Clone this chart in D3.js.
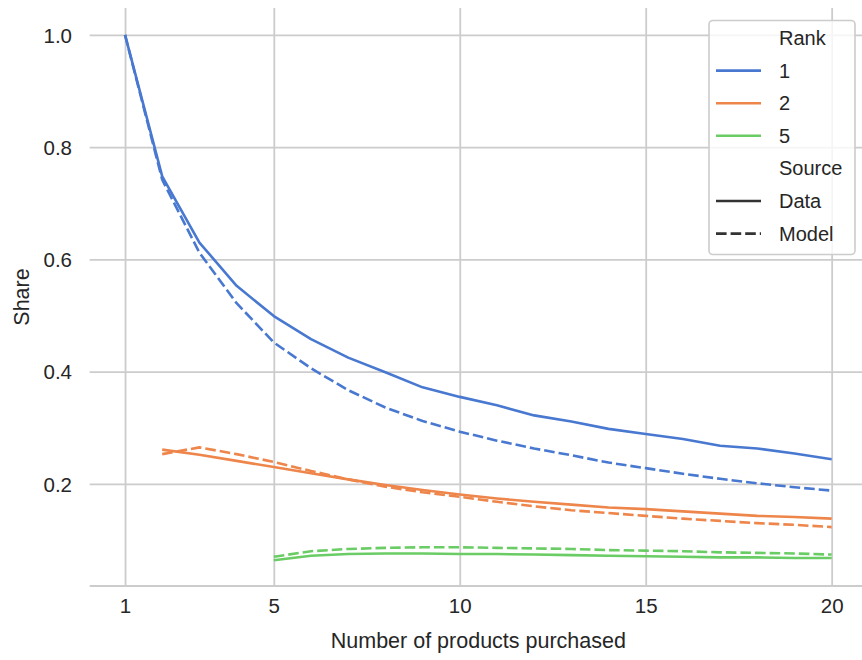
<!DOCTYPE html>
<html>
<head>
<meta charset="utf-8">
<script src="https://cdn.jsdelivr.net/npm/d3@7"></script>
<style>
  html, body { margin: 0; padding: 0; background: #fff; }
  svg { display: block; font-family: "Liberation Sans", Arial, sans-serif; }
</style>
</head>
<body>
<svg id="chart" width="862" height="660"></svg>
<script>
// Number of products purchased
const nRank1 = d3.range(1, 21);
const nRank2 = d3.range(2, 21);
const nRank5 = d3.range(5, 21);

// Share held by the product of each rank, observed vs. model
const rank1Data  = [1.000, 0.748, 0.630, 0.553, 0.499, 0.458, 0.425, 0.399, 0.372, 0.355,
                    0.340, 0.322, 0.311, 0.298, 0.289, 0.280, 0.268, 0.263, 0.254, 0.244];
const rank1Model = [1.000, 0.742, 0.612, 0.522, 0.452, 0.406, 0.367, 0.336, 0.312, 0.293,
                    0.277, 0.263, 0.251, 0.238, 0.228, 0.218, 0.209, 0.201, 0.194, 0.188];
const rank2Data  = [0.261, 0.252, 0.241, 0.230, 0.219, 0.208, 0.198, 0.189, 0.181, 0.174,
                    0.168, 0.163, 0.158, 0.155, 0.151, 0.147, 0.143, 0.141, 0.138];
const rank2Model = [0.253, 0.265, 0.253, 0.239, 0.223, 0.208, 0.195, 0.185, 0.177, 0.168,
                    0.160, 0.153, 0.148, 0.143, 0.138, 0.134, 0.130, 0.127, 0.123];
const rank5Data  = [0.064, 0.072, 0.075, 0.076, 0.076, 0.075, 0.075, 0.074, 0.073, 0.072,
                    0.071, 0.070, 0.069, 0.069, 0.068, 0.068];
const rank5Model = [0.070, 0.080, 0.084, 0.086, 0.087, 0.087, 0.086, 0.085, 0.084, 0.082,
                    0.081, 0.080, 0.078, 0.077, 0.076, 0.074];

const ranks = ["1", "2", "5"];
const rankColors = ["#4878d0", "#ee854a", "#6acc64"];
const sources = ["Data", "Model"];

const xTicks = [1, 5, 10, 15, 20];
const yTicks = [0.2, 0.4, 0.6, 0.8, 1.0];

const series = [
  { rank: "1", source: "Data",  n: nRank1, v: rank1Data },
  { rank: "1", source: "Model", n: nRank1, v: rank1Model },
  { rank: "2", source: "Data",  n: nRank2, v: rank2Data },
  { rank: "2", source: "Model", n: nRank2, v: rank2Model },
  { rank: "5", source: "Data",  n: nRank5, v: rank5Data },
  { rank: "5", source: "Model", n: nRank5, v: rank5Model },
];

const svg = d3.select("#chart");
const plot = { left: 89.7, right: 867, top: 8, bottom: 586 };
const textColor = "#262626";
const gridColor = "#cccccc";
const lineWidth = 2.6;
const dash = "10.6,4";

const x = d3.scaleLinear().domain([0.05, 20.95]).range([plot.left, plot.right]);
const y = d3.scaleLinear().domain([0.018, 1.048]).range([plot.bottom, plot.top]);
const color = d3.scaleOrdinal().domain(ranks).range(rankColors);

// Grid
const gx = svg.append("g").attr("transform", `translate(0,${plot.bottom})`)
  .call(d3.axisBottom(x).tickValues(xTicks).tickSize(-(plot.bottom - plot.top)).tickFormat(""));
const gy = svg.append("g").attr("transform", `translate(${plot.left},0)`)
  .call(d3.axisLeft(y).tickValues(yTicks).tickSize(-(plot.right - plot.left)).tickFormat(""));
[gx, gy].forEach(g => {
  g.select(".domain").remove();
  g.selectAll(".tick line").attr("stroke", gridColor).attr("stroke-width", 1.8);
});

// Bottom spine
svg.append("line")
  .attr("x1", plot.left).attr("x2", plot.right).attr("y1", plot.bottom).attr("y2", plot.bottom)
  .attr("stroke", gridColor).attr("stroke-width", 2.2);

// Tick labels
const ax = svg.append("g").attr("transform", `translate(0,${plot.bottom})`)
  .call(d3.axisBottom(x).tickValues(xTicks).tickSize(0).tickPadding(0).tickFormat(d3.format("d")));
ax.select(".domain").remove();
ax.selectAll(".tick text")
  .attr("y", 27).attr("dy", null)
  .attr("fill", textColor).attr("font-size", "20.5px")
  .attr("font-family", "Liberation Sans, Arial, sans-serif");

const ay = svg.append("g").attr("transform", `translate(${plot.left},0)`)
  .call(d3.axisLeft(y).tickValues(yTicks).tickSize(0).tickFormat(d3.format(".1f")));
ay.select(".domain").remove();
ay.selectAll(".tick text")
  .attr("x", -17.7).attr("dy", "0.35em")
  .attr("fill", textColor).attr("font-size", "20.5px")
  .attr("font-family", "Liberation Sans, Arial, sans-serif");

// Axis labels
svg.append("text")
  .attr("x", (plot.left + plot.right) / 2).attr("y", 648)
  .attr("text-anchor", "middle").attr("fill", textColor).attr("font-size", "21.5px")
  .text("Number of products purchased");
svg.append("text")
  .attr("transform", `translate(29,${(plot.top + plot.bottom) / 2}) rotate(-90)`)
  .attr("text-anchor", "middle").attr("fill", textColor).attr("font-size", "21.5px")
  .text("Share");

// Lines
const line = d3.line().x(d => x(d[0])).y(d => y(d[1]));
svg.append("g").selectAll("path")
  .data(series)
  .join("path")
  .attr("d", s => line(s.n.map((n, i) => [n, s.v[i]])))
  .attr("fill", "none")
  .attr("stroke", s => color(s.rank))
  .attr("stroke-width", lineWidth)
  .attr("stroke-linejoin", "round")
  .attr("stroke-dasharray", s => s.source === "Model" ? dash : null);

// Legend
const lg = svg.append("g");
lg.append("rect")
  .attr("x", 709).attr("y", 20.5).attr("width", 146).attr("height", 234)
  .attr("rx", 4).attr("fill", "#ffffff").attr("fill-opacity", 0.8)
  .attr("stroke", gridColor).attr("stroke-width", 1.6);

const legendRows = [
  { label: "Rank" },
  ...ranks.map(r => ({ label: r, stroke: color(r) })),
  { label: "Source" },
  ...sources.map(s => ({ label: s, stroke: "#333333", dashed: s === "Model" })),
];
const rowY0 = 38, rowStep = 32.6;
const row = lg.selectAll("g.row").data(legendRows).join("g")
  .attr("class", "row")
  .attr("transform", (d, i) => `translate(0,${rowY0 + i * rowStep})`);
row.filter(d => d.stroke)
  .append("line")
  .attr("x1", 716).attr("x2", 761).attr("y1", 0).attr("y2", 0)
  .attr("stroke", d => d.stroke).attr("stroke-width", lineWidth)
  .attr("stroke-dasharray", d => d.dashed ? dash : null);
row.append("text")
  .attr("x", 779).attr("dy", "0.35em")
  .attr("fill", textColor).attr("font-size", "20px")
  .text(d => d.label);
</script>
</body>
</html>
